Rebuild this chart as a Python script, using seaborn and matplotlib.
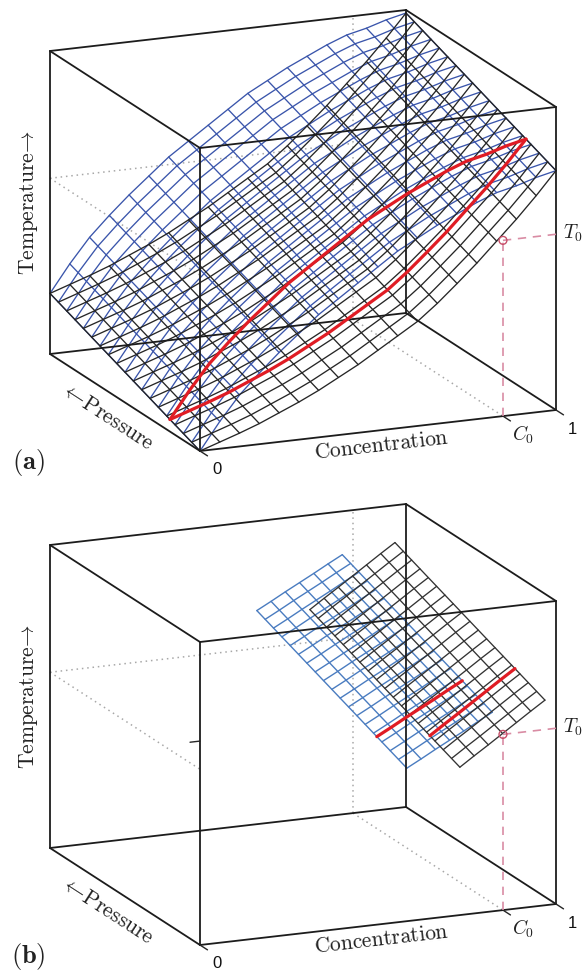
import numpy as np
import pandas as pd
import matplotlib
matplotlib.use("Agg")
import matplotlib.pyplot as plt
import seaborn as sns

# concentration grid and read-off surface temperatures (pressure = 0)
conc = [0, .0556, .1111, .1667, .2222, .2778, .3333, .3889, .4444, .5, .5556, .6111, .6667, .7222, .7778, .8333, .8889, .9444, 1]
upper_T = [0, .09, .17, .235, .295, .35, .405, .45, .495, .54, .585, .62, .655, .685, .715, .74, .755, .775, .79]
lower_T = [0, .022, .044, .068, .096, .124, .155, .19, .225, .265, .305, .345, .397, .455, .515, .58, .645, .715, .79]

# patches of panel b
patch_upper_c = [.581, .621, .661, .701, .741, .781, .821]
patch_upper_T = [.505, .530, .556, .581, .606, .632, .657]
patch_lower_c = [.730, .770, .810, .850, .889, .929, .969]
patch_lower_T = [.488, .520, .551, .583, .614, .646, .677]

pressure = [0, .0556, .1111, .1667, .2222, .2778, .3333, .3889, .4444, .5, .5556, .6111, .6667, .7222, .7778, .8333, .8889, .9444, 1]
P_SLOPE = 0.2
P_SECTION = 0.2
C0 = 0.851
T0 = 0.58

BLUE_A = "#3a55ab"
BLUE_B = "#4a7cc0"
DARK = "#262626"
RED = "#e01c24"
PINK = "#d98ca4"
DOT = "#a8a8a8"

C_VEC = np.array([356, -41])
P_VEC = np.array([-150, -97])
T_VEC = np.array([0, -303])


def project(origin, c, p, t):
    xy = np.array(origin) + np.outer(c, C_VEC) + np.outer(p, P_VEC) + np.outer(t, T_VEC)
    return xy[:, 0], xy[:, 1]


def draw_path(ax, origin, c, p, t, **kws):
    x, y = project(origin, np.asarray(c, float), np.asarray(p, float), np.asarray(t, float))
    sns.lineplot(x=x, y=y, sort=False, estimator=None, ax=ax, legend=False, **kws)


def draw_surface(ax, origin, c_vals, t_vals, color, lw):
    rows = []
    line = 0
    for c, t in zip(c_vals, t_vals):
        x, y = project(origin, np.full(len(pressure), c), np.array(pressure),
                       t + P_SLOPE * np.array(pressure))
        rows.append(pd.DataFrame({"x": x, "y": y, "line": line}))
        line += 1
    for p in pressure:
        x, y = project(origin, np.array(c_vals), np.full(len(c_vals), p),
                       np.array(t_vals) + P_SLOPE * p)
        rows.append(pd.DataFrame({"x": x, "y": y, "line": line}))
        line += 1
    df = pd.concat(rows)
    sns.lineplot(data=df, x="x", y="y", units="line", estimator=None, sort=False,
                 color=color, linewidth=lw, ax=ax, legend=False)


def draw_cube(ax, origin):
    edges = [
        ([0, 1], [0, 0], [0, 0]), ([0, 1], [1, 1], [0, 0]),
        ([0, 1], [0, 0], [1, 1]), ([0, 1], [1, 1], [1, 1]),
        ([0, 0], [0, 1], [0, 0]), ([1, 1], [0, 1], [0, 0]),
        ([0, 0], [0, 1], [1, 1]), ([1, 1], [0, 1], [1, 1]),
        ([0, 0], [0, 0], [0, 1]), ([1, 1], [0, 0], [0, 1]),
        ([0, 0], [1, 1], [0, 1]), ([1, 1], [1, 1], [0, 1]),
    ]
    for c, p, t in edges:
        draw_path(ax, origin, c, p, t, color="#1c1c1c", linewidth=1.3)
    # ticks below the front edge
    for c in (0, C0, 1):
        draw_path(ax, origin, [c, c], [0, -0.05], [0, 0], color=DARK, linewidth=1.0)


def draw_guides(ax, origin):
    dot = dict(color=DOT, linewidth=1.1, linestyle=(0, (1, 2.5)))
    draw_path(ax, origin, [0, C0], [1, 1], [T0, T0], **dot)
    draw_path(ax, origin, [0, 0], [1, 0], [T0, T0], **dot)
    draw_path(ax, origin, [C0, C0], [1, 1], [0, 1], **dot)
    draw_path(ax, origin, [C0, C0], [1, 0], [0, 0], **dot)


def draw_marker(ax, origin):
    dash = dict(color=PINK, linewidth=1.2, linestyle=(0, (5, 4)))
    draw_path(ax, origin, [C0, C0], [0, 0], [0, T0], **dash)
    draw_path(ax, origin, [C0, 1], [0, 0], [T0, T0], **dash)
    x, y = project(origin, np.array([C0]), np.array([0.0]), np.array([T0]))
    sns.scatterplot(x=x, y=y, s=32, facecolor="none", edgecolor="#c8506a", linewidth=1.0,
                    ax=ax, legend=False, zorder=6)


def draw_labels(ax, origin, tag):
    ox, oy = origin
    ax.text(ox - 172, oy - 248, r"$\mathrm{Temperature}\!\rightarrow$", rotation=90,
            ha="center", va="center", fontsize=15.5, color="#222222")
    ax.text(ox - 93, oy - 35, r"$\leftarrow\!\mathrm{Pressure}$", rotation=-33,
            ha="center", va="center", fontsize=15.5, color="#222222")
    ax.text(ox + 181, oy - 6, r"$\mathrm{Concentration}$", rotation=6.6,
            ha="center", va="center", fontsize=15.5, color="#222222")
    ax.text(ox - 172, oy + 12, r"$\mathbf{(" + tag + r")}$", ha="center", va="center",
            fontsize=19, color="#222222")
    ax.text(ox + 17, oy + 19, "0", ha="center", va="center", fontsize=12,
            family="Liberation Sans", color="#111111")
    ax.text(ox + 372, oy - 21, "1", ha="center", va="center", fontsize=12,
            family="Liberation Sans", color="#111111")
    ax.text(ox + 323, oy - 16, r"$C_0$", ha="center", va="center", fontsize=14, color="#222222")
    ax.text(ox + 373, oy - 218, r"$T_0$", ha="center", va="center", fontsize=14, color="#222222")


sns.set_theme(style="white")
plt.rcParams["mathtext.fontset"] = "cm"

fig = plt.figure(figsize=(5.84, 9.74), dpi=100)
ax = fig.add_axes([0, 0, 1, 1])

origin_a = (200, 451)
origin_b = (200, 945)

# panel a
draw_guides(ax, origin_a)
draw_surface(ax, origin_a, conc, upper_T, BLUE_A, 0.95)
draw_surface(ax, origin_a, conc, lower_T, DARK, 0.95)
draw_cube(ax, origin_a)
draw_marker(ax, origin_a)
p_line = np.full(len(conc), P_SECTION)
draw_path(ax, origin_a, conc, p_line, np.array(upper_T) + P_SLOPE * P_SECTION, color=RED, linewidth=2.3)
draw_path(ax, origin_a, conc, p_line, np.array(lower_T) + P_SLOPE * P_SECTION, color=RED, linewidth=2.3)
draw_labels(ax, origin_a, "a")

# panel b
draw_guides(ax, origin_b)
draw_surface(ax, origin_b, patch_upper_c, patch_upper_T, BLUE_B, 1.0)
draw_surface(ax, origin_b, patch_lower_c, patch_lower_T, "#333333", 0.95)
draw_cube(ax, origin_b)
draw_path(ax, origin_b, [-.028, 0], [0, 0], [.673, .673], color=DARK, linewidth=1.0)
draw_marker(ax, origin_b)
p_line = np.full(len(patch_upper_c), P_SECTION)
draw_path(ax, origin_b, patch_upper_c, p_line, np.array(patch_upper_T) + P_SLOPE * P_SECTION, color=RED, linewidth=2.3)
draw_path(ax, origin_b, patch_lower_c, p_line, np.array(patch_lower_T) + P_SLOPE * P_SECTION, color=RED, linewidth=2.3)
draw_labels(ax, origin_b, "b")

ax.set_xlim(0, 584)
ax.set_ylim(974, 0)
ax.axis("off")

fig.savefig("out.png", dpi=100)
plt.close(fig)
